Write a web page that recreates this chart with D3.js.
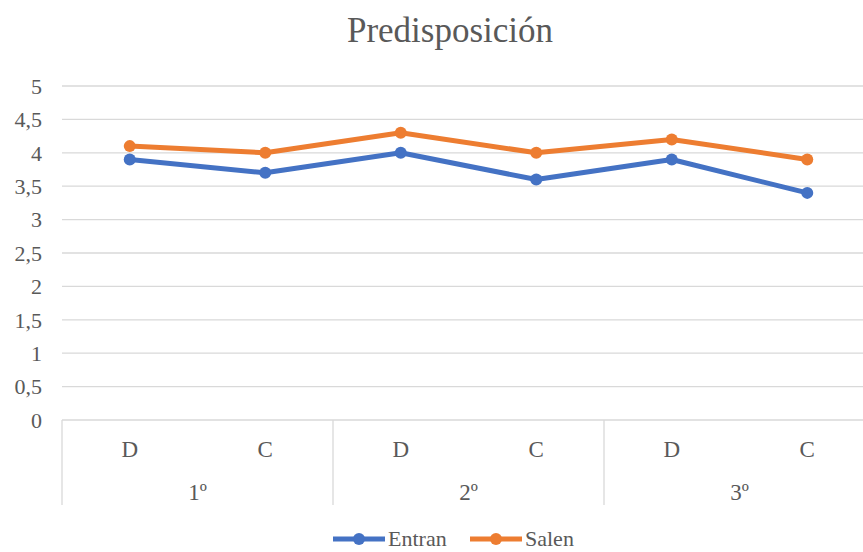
<!DOCTYPE html>
<html>
<head>
<meta charset="utf-8">
<script src="https://cdn.jsdelivr.net/npm/d3@7"></script>
<style>
  body { margin: 0; background: #fff; }
  text { font-family: "Liberation Serif", "Times New Roman", serif; fill: #595959; }
</style>
</head>
<body>
<div id="chart"></div>
<script>
var groups = ["1º", "2º", "3º"];
var subcats = ["D", "C"];
var entran = [3.9, 3.7, 4.0, 3.6, 3.9, 3.4];
var salen = [4.1, 4.0, 4.3, 4.0, 4.2, 3.9];
var yTicks = [0, 0.5, 1, 1.5, 2, 2.5, 3, 3.5, 4, 4.5, 5];
var seriesNames = ["Entran", "Salen"];
var colors = ["#4472C4", "#ED7D31"];

var width = 863;
var height = 552;
var margin = { top: 86, left: 62, bottom: 132, right: -12 };

var svg = d3
  .select("#chart")
  .append("svg")
  .attr("width", width)
  .attr("height", height);

var plotW = width - margin.left - margin.right;
var plotH = height - margin.top - margin.bottom;

var g = svg.append("g")
  .attr("transform", "translate(" + margin.left + "," + margin.top + ")");

// one slot per D/C point
var keys = [];
groups.forEach(function(gr, i) {
  subcats.forEach(function(s, j) {
    keys.push(i + "-" + j);
  });
});

var x = d3.scaleBand().domain(keys).range([0, plotW]);
var xg = d3.scaleBand().domain(groups).range([0, plotW]);
var y = d3.scaleLinear().domain([0, 5]).range([plotH, 0]);

// gridlines
g.selectAll(".grid")
  .data(yTicks)
  .enter()
  .append("line")
  .attr("class", "grid")
  .attr("x1", 0)
  .attr("x2", plotW)
  .attr("y1", function(d) { return y(d); })
  .attr("y2", function(d) { return y(d); })
  .attr("stroke", "#d9d9d9")
  .attr("stroke-width", 1.3);

// y labels
g.selectAll(".ylab")
  .data(yTicks)
  .enter()
  .append("text")
  .attr("class", "ylab")
  .attr("x", -20)
  .attr("y", function(d) { return y(d); })
  .attr("dy", "0.35em")
  .attr("text-anchor", "end")
  .attr("font-size", "22px")
  .text(function(d) { return String(d).replace(".", ","); });

// group separators of the category axis
var seps = groups.map(function(d) { return xg(d); }).concat([plotW]);
g.selectAll(".sep")
  .data(seps)
  .enter()
  .append("line")
  .attr("class", "sep")
  .attr("x1", function(d) { return d; })
  .attr("x2", function(d) { return d; })
  .attr("y1", plotH)
  .attr("y2", plotH + 85)
  .attr("stroke", "#d9d9d9")
  .attr("stroke-width", 1.3);

// sub category labels
g.selectAll(".xlab")
  .data(keys)
  .enter()
  .append("text")
  .attr("class", "xlab")
  .attr("x", function(d) { return x(d) + x.bandwidth() / 2; })
  .attr("y", plotH + 37)
  .attr("text-anchor", "middle")
  .attr("font-size", "23px")
  .text(function(d) { return subcats[+d.split("-")[1]]; });

// group labels
g.selectAll(".glab")
  .data(groups)
  .enter()
  .append("text")
  .attr("class", "glab")
  .attr("x", function(d) { return xg(d) + xg.bandwidth() / 2; })
  .attr("y", plotH + 80)
  .attr("text-anchor", "middle")
  .attr("font-size", "23px")
  .text(function(d) { return d; });

// series
var series = [entran, salen];
var line = d3.line()
  .x(function(d, i) { return x(keys[i]) + x.bandwidth() / 2; })
  .y(function(d) { return y(d); });

series.forEach(function(vals, si) {
  g.append("path")
    .datum(vals)
    .attr("fill", "none")
    .attr("stroke", colors[si])
    .attr("stroke-width", 5)
    .attr("stroke-linejoin", "round")
    .attr("d", line);

  g.selectAll(".pt" + si)
    .data(vals)
    .enter()
    .append("circle")
    .attr("class", "pt" + si)
    .attr("r", 6)
    .attr("fill", colors[si])
    .attr("cx", function(d, i) { return x(keys[i]) + x.bandwidth() / 2; })
    .attr("cy", function(d) { return y(d); });
});

// title
svg.append("text")
  .attr("x", 450)
  .attr("y", 42)
  .attr("text-anchor", "middle")
  .attr("font-size", "35px")
  .text("Predisposición");

// legend
var legend = [{ x: 333 }, { x: 470 }];
legend.forEach(function(l, i) {
  var lg = svg.append("g").attr("transform", "translate(" + l.x + ",539)");
  lg.append("line")
    .attr("x1", 0).attr("x2", 52)
    .attr("y1", 0).attr("y2", 0)
    .attr("stroke", colors[i])
    .attr("stroke-width", 5);
  lg.append("circle")
    .attr("cx", 26).attr("cy", 0).attr("r", 6)
    .attr("fill", colors[i]);
  lg.append("text")
    .attr("x", 55)
    .attr("y", 0)
    .attr("dy", "0.33em")
    .attr("font-size", "22px")
    .text(seriesNames[i]);
});
</script>
</body>
</html>
